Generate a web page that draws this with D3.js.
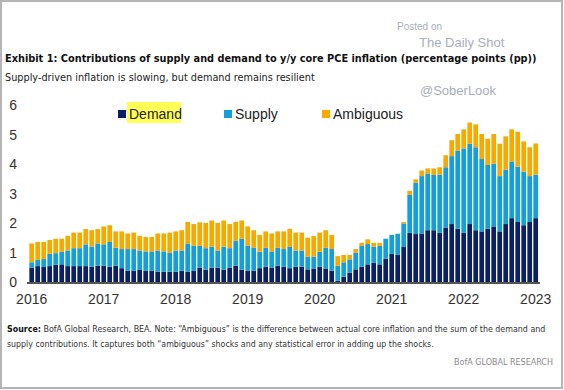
<!DOCTYPE html>
<html><head><meta charset="utf-8">
<script src="https://cdn.jsdelivr.net/npm/d3@7"></script>
<style>body{margin:0;background:#fff}svg{display:block}</style>
</head><body><div id="chart"></div>
<script>
const yearLabels = ["2016","2017","2018","2019","2020","2021","2022","2023"];
const yTicks = [0,1,2,3,4,5,6];
const seriesNames = ["Demand","Supply","Ambiguous"];
const seriesColors = ["#0b1f65","#129fdc","#f7a900"];
// monthly, Jan 2016 .. Jan 2023
const demand = [0.49,0.54,0.51,0.54,0.59,0.60,0.54,0.54,0.54,0.54,0.52,0.55,
  0.55,0.52,0.55,0.47,0.38,0.38,0.41,0.38,0.38,0.35,0.35,0.35,
  0.35,0.38,0.35,0.38,0.49,0.42,0.49,0.49,0.42,0.49,0.55,0.42,
  0.38,0.38,0.47,0.52,0.49,0.55,0.52,0.47,0.52,0.52,0.43,0.46,
  0.52,0.46,0.38,0.04,0.18,0.32,0.43,0.52,0.60,0.65,0.60,0.79,
  0.95,0.92,1.19,1.67,1.63,1.65,1.76,1.76,1.67,1.84,1.97,1.81,
  1.67,1.97,1.76,1.72,1.81,1.89,1.72,1.97,2.17,2.04,1.93,2.04,
  2.17];
const supply = [0.18,0.21,0.27,0.42,0.39,0.43,0.53,0.61,0.61,0.74,0.68,0.76,
  0.73,0.84,0.61,0.65,0.74,0.74,0.66,0.66,0.66,0.72,0.69,0.64,
  0.72,0.69,0.96,0.85,0.74,0.73,0.71,0.58,0.78,0.66,0.85,1.05,
  0.86,0.78,0.56,0.64,0.55,0.61,0.60,0.72,0.55,0.55,0.43,0.40,
  0.51,0.70,0.74,0.51,0.49,0.45,0.56,0.71,0.69,0.55,0.63,0.68,
  0.65,0.72,0.80,1.29,1.74,1.95,1.93,1.88,1.98,2.06,2.31,2.65,
  2.87,2.73,2.82,2.46,2.17,2.13,1.88,1.85,1.93,1.88,1.82,1.56,
  1.48];
const ambiguous = [0.64,0.61,0.58,0.47,0.49,0.44,0.50,0.53,0.53,0.52,0.56,0.49,
  0.61,0.57,0.56,0.60,0.53,0.56,0.50,0.49,0.49,0.58,0.61,0.69,
  0.65,0.69,0.73,0.74,0.80,0.86,0.89,0.94,0.89,0.82,0.65,0.62,
  0.65,0.60,0.57,0.56,0.61,0.56,0.60,0.62,0.61,0.61,0.65,0.70,
  0.65,0.60,0.48,0.33,0.25,0.15,0.13,0.10,0.16,0.13,0.10,0.00,
  0.00,0.00,0.05,0.14,0.12,0.19,0.17,0.22,0.25,0.41,0.54,0.57,
  0.65,0.72,0.78,0.85,0.89,1.01,1.10,1.13,1.09,1.19,1.03,0.98,
  1.06];

const W = 564, H = 390;
const NARROW = "'Liberation Sans Narrow', 'DejaVu Sans Condensed', 'Liberation Sans', Arial, sans-serif";
const svg = d3.select("#chart").append("svg").attr("width", W).attr("height", H)
  .style("font-family", "'Liberation Sans', Arial, sans-serif");

svg.append("rect").attr("x",1).attr("y",1).attr("width",W-3).attr("height",H-3)
  .attr("fill","#fff").attr("stroke","#b5b5b5").attr("stroke-width",2);

// fit text to a target width: shrink font if too wide, stretch spacing if too narrow
function fit(t, target) {
  const w = t.node().getComputedTextLength();
  if (w > target) {
    const fs = parseFloat(t.attr("font-size"));
    t.attr("font-size", (fs * target / w).toFixed(2));
  } else if (w < target - 2) {
    t.attr("textLength", target).attr("lengthAdjust", "spacing");
  }
}

// header
svg.append("text").attr("x",397).attr("y",30).attr("font-size",10).attr("fill","#a8aebb").text("Posted on");
svg.append("text").attr("x",419).attr("y",47).attr("font-size",13).attr("fill","#a8aebb").text("The Daily Shot");
svg.append("text").attr("x",420).attr("y",95).attr("font-size",13).attr("fill","#a8aebb").text("@SoberLook");
const title = svg.append("text").attr("x",5).attr("y",62).attr("font-size",15).attr("font-weight","bold").attr("fill","#111")
  .style("font-family", NARROW)
  .text("Exhibit 1: Contributions of supply and demand to y/y core PCE inflation (percentage points (pp))");
fit(title, 532);
const sub = svg.append("text").attr("x",5).attr("y",81).attr("font-size",14).attr("fill","#222")
  .style("font-family", NARROW)
  .text("Supply-driven inflation is slowing, but demand remains resilient");
fit(sub, 310);

const n = demand.length;
const idx = d3.range(n);
const x = d3.scaleBand().domain(idx).range([28.7, 538.7]).paddingInner(0.22).paddingOuter(0.11);
const y = d3.scaleLinear().domain([0,6]).range([282, 105.5]);

const rows = idx.map(i => ({i, Demand: demand[i], Supply: supply[i], Ambiguous: ambiguous[i]}));
const stack = d3.stack().keys(seriesNames)(rows);
const color = d3.scaleOrdinal().domain(seriesNames).range(seriesColors);

svg.append("g").selectAll("g").data(stack).join("g").attr("fill", d => color(d.key))
  .selectAll("rect").data(d => d).join("rect")
  .attr("x", d => x(d.data.i)).attr("width", x.bandwidth())
  .attr("y", d => y(d[1])).attr("height", d => Math.max(0, y(d[0]) - y(d[1])));

// y axis labels
const yAxis = d3.axisLeft(y).tickValues(yTicks).tickFormat(d3.format("d")).tickSize(0).tickPadding(0);
const gy = svg.append("g").attr("transform","translate(17,0)").call(yAxis);
gy.select(".domain").remove();
gy.selectAll("text").attr("font-size",14).attr("fill","#333").attr("font-family","'Liberation Sans', Arial, sans-serif");

// x axis
const xYear = d3.scaleOrdinal().domain(yearLabels).range(yearLabels.map((_, k) => x(k*12) + x.bandwidth()/2));
svg.append("line").attr("x1",27).attr("x2",540).attr("y1",283).attr("y2",283).attr("stroke","#555").attr("stroke-width",2);
const gx = svg.append("g");
gx.selectAll("text").data(yearLabels).join("text")
  .attr("x", d => xYear(d)).attr("y",304).attr("text-anchor","middle")
  .attr("font-size",14).attr("fill","#333").text(d => d);

// legend
const legX = [118, 224, 322];
svg.append("rect").attr("x",127).attr("y",102).attr("width",54).attr("height",21).attr("fill","#ffff55");
const lg = svg.append("g").selectAll("g").data(seriesNames).join("g")
  .attr("transform", (d,k) => `translate(${legX[k]},0)`);
lg.append("rect").attr("x",0).attr("y",110).attr("width",8).attr("height",8).attr("fill", d => color(d));
lg.append("text").attr("x",11).attr("y",119).attr("font-size",14).attr("fill","#222").text(d => d);

// footer
const f1 = svg.append("text").attr("x",7).attr("y",332).attr("font-size",10.5).attr("fill","#333")
  .style("font-family", NARROW);
f1.append("tspan").attr("font-weight","bold").attr("fill","#111").text("Source:");
f1.append("tspan").text("  BofA Global Research, BEA. Note: \u201cAmbiguous\u201d is the difference between actual core inflation and the sum of the demand and");
fit(f1, 539);
const f2 = svg.append("text").attr("x",7).attr("y",347).attr("font-size",10.5).attr("fill","#333")
  .style("font-family", NARROW)
  .text("supply contributions. It captures both \u201cambiguous\u201d shocks and any statistical error in adding up the shocks.");
fit(f2, 427);
const f3 = svg.append("text").attr("x",553).attr("y",365).attr("text-anchor","end").attr("font-size",10.5).attr("fill","#8a8a8a")
  .style("font-family", NARROW).text("BofA GLOBAL RESEARCH");
fit(f3, 99);
</script></body></html>
